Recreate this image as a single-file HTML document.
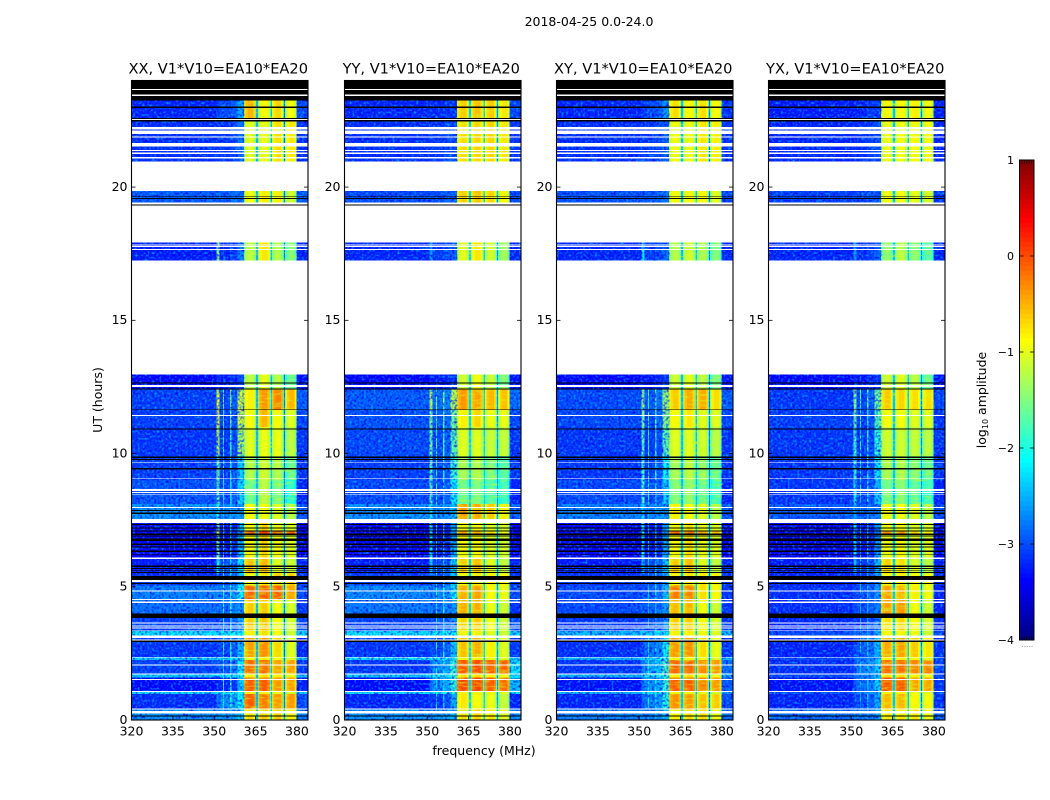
<!DOCTYPE html>
<html>
<head>
<meta charset="utf-8">
<title>2018-04-25 0.0-24.0</title>
<style>
html,body{margin:0;padding:0;background:#fff;width:1050px;height:800px;overflow:hidden}
svg{display:block}
text{font-family:"DejaVu Sans","Liberation Sans",sans-serif;fill:#000}
</style>
</head>
<body>
<svg id="chart" xmlns="http://www.w3.org/2000/svg" width="1050" height="800" viewBox="0 0 1050 800">
<defs>
<filter id="speckleDark" x="0" y="0" width="100%" height="100%" color-interpolation-filters="sRGB">
<feTurbulence type="fractalNoise" baseFrequency="0.42" numOctaves="1" seed="4"/>
<feColorMatrix type="matrix" values="0 0 0 0 0  0 0 0 0 0  0 0 0 0 0.95  2.6 0 0 0 -1.15"/>
</filter>
<filter id="speckleLight" x="0" y="0" width="100%" height="100%" color-interpolation-filters="sRGB">
<feTurbulence type="fractalNoise" baseFrequency="0.42" numOctaves="1" seed="11"/>
<feColorMatrix type="matrix" values="0 0 0 0 0  0 0 0 0 0.7  0 0 0 0 1  2.6 0 0 0 -1.3"/>
</filter>
<filter id="speckleBand" x="0" y="0" width="100%" height="100%" color-interpolation-filters="sRGB">
<feTurbulence type="fractalNoise" baseFrequency="0.12 0.5" numOctaves="1" seed="7"/>
<feColorMatrix type="matrix" values="0 0 0 0 0.8  0 0 0 0 1  0 0 0 0 0.1  2 0 0 0 -0.95"/>
</filter>
</defs>
<text x="589" y="26" font-size="12.5" text-anchor="middle">2018-04-25 0.0-24.0</text>
<text transform="translate(102,400) rotate(-90)" font-size="12.5" text-anchor="middle">UT (hours)</text>
<text x="484" y="755" font-size="12.5" text-anchor="middle">frequency (MHz)</text>
<text transform="translate(986,400) rotate(-90)" font-size="12.5" text-anchor="middle">log<tspan font-size="8" dy="2">10</tspan><tspan dy="-2"> amplitude</tspan></text>
<g id="panels"></g>
<g id="colorbar"></g>
</svg>
<script>
const panelTitles = ["XX, V1*V10=EA10*EA20", "YY, V1*V10=EA10*EA20", "XY, V1*V10=EA10*EA20", "YX, V1*V10=EA10*EA20"];
const xTicks = [320, 335, 350, 365, 380];
const yTicks = [0, 5, 10, 15, 20];
const colorbarTicks = [1, 0, -1, -2, -3, -4];
const freqEdges = [320, 350.8, 351.9, 353.2, 353.6, 355.8, 356.3, 358.5, 360.8, 361.3, 362.2, 364.2, 365, 365.3, 365.7, 366, 366.5, 367.4, 369.4, 370.2, 370.5, 370.8, 371, 371.5, 372.2, 374.2, 375, 375.3, 375.7, 375.9, 376.4, 377.1, 379.1, 379.9, 384];
const binColumn = [0, 2, 1, 3, 1, 3, 1, 4, 5, 5, 5, 5, -2, -1, -2, 6, 6, 6, 6, -2, -1, -2, 7, 7, 7, 7, -2, -1, -2, 8, 8, 8, 8, 9];
const binOffset = [0, 0, 0, 0, 0, 0, 0.1, 0, -0.3, -0.1, 0, -0.2, 0, 0, 0, -0.3, -0.1, 0, -0.2, 0, 0, 0, -0.3, -0.1, 0, -0.2, 0, 0, 0, -0.3, -0.1, 0, -0.3, 0];
const notchLevels = [-2.9, -2.7, -2.85, -2.8];
const notchEdgeLevels = [-1.95, -1.85, -1.95, -1.95];
const blockStart = [23.25, 22.57, 19.85, 17.92, 12.96, 12.4, 11.65, 11, 9.9, 9, 8.1, 7.4, 7.12, 6.1, 5.5, 5.05, 4.5, 3.82, 3.36, 3.15, 2.37, 2.26, 1.75, 1.6, 1.09, 0.98, 0.44];
const blockEnd = [22.57, 20.96, 19.35, 17.25, 12.4, 11.65, 11, 9.9, 9, 8.1, 7.55, 6.1, 6.95, 5.5, 5.05, 4.5, 3.82, 3.36, 3.15, 2.37, 2.26, 1.75, 1.6, 1.09, 0.98, 0.44, 0];
const levelsXX = [
[-3.2,-3,-3.1,-3,-2.5,-.5,-.85,-.65,-.9,-3],
[-3.15,-3.1,-3.1,-3.05,-2.8,-1,-.95,-.7,-.75,-3.1],
[-2.9,-2.9,-2.9,-2.9,-2.8,-.9,-.8,-.8,-1.1,-2.9],
[-3.25,-3.2,-1.5,-2.9,-2.7,-1.2,-.75,-1.25,-1.5,-3.2],
[-3.4,-3.3,-3.1,-3.1,-3,-1.2,-.95,-1.25,-1.6,-3.3],
[-3.05,-3,-.95,-1.4,-1.1,-.8,-.35,-.25,-.5,-2.9],
[-3.05,-3.05,-1,-1.6,-1.1,-.85,-.5,-.85,-1,-3],
[-3.1,-3.1,-1.2,-1.8,-1.3,-1,-.95,-.95,-1.2,-3.1],
[-3.05,-3.05,-1.6,-2,-2.3,-1.25,-1.1,-1.25,-1.6,-3.1],
[-2.95,-3,-1.7,-2,-2.3,-1.6,-1.2,-1.5,-1.9,-3.2],
[-2.6,-2.7,-2,-2.4,-2.6,-.85,-.9,-1,-1.2,-2.9],
[-3.4,-3.3,-1.5,-2.2,-2.4,-.85,-.65,-.9,-1,-3.4],
[-3.4,-3.3,-1,-2.2,-2.6,.1,.1,.1,-.1,-3.4],
[-3.25,-2.9,-2,-2.2,-2.2,-.55,-.5,-1,-1.1,-3.2],
[-3.1,-3,-3,-2.2,-2.4,-.9,-.75,-.6,-.6,-3.1],
[-2.7,-2.7,-2.7,-1.9,-2.1,-.1,-.05,-.1,-.4,-3],
[-2.8,-2.8,-2.8,-1.9,-2.6,-.6,-.6,-.9,-1.05,-3.1],
[-3.05,-3,-3,-2,-2.5,-.6,-.55,-.85,-1.05,-3],
[-2.2,-2.2,-2.2,-2.1,-2.1,-.8,-.7,-.9,-1.1,-2.3],
[-3.1,-3,-3,-1.9,-2.4,-.4,-.3,-.65,-1,-3.2],
[-2.3,-2.3,-2.2,-2.1,-2.1,-.9,-.8,-.9,-1,-2.4],
[-3.05,-2.9,-2.9,-1.9,-2.2,-.15,-.15,-.4,-.4,-3.1],
[-2.3,-2.2,-2.2,-2,-2,-.8,-.7,-.8,-.9,-2.4],
[-3.35,-3.2,-3.2,-1.9,-2.3,-.05,-.05,-.35,-.4,-3.2],
[-2.2,-2.2,-2.2,-2,-2,-.8,-.8,-.9,-1,-2.3],
[-3.15,-2.6,-2.8,-1.9,-2.1,-.05,-.2,-.35,-.35,-3],
[-2.6,-2.6,-2.6,-2.4,-2.3,-.7,-.6,-.6,-.8,-2.7]
];
const levelsYY = [
[-3.2,-3.2,-3.1,-3.1,-3.1,-.6,-.55,-.6,-.75,-3],
[-3.15,-3.1,-3.1,-3.1,-3,-.7,-.65,-.65,-.75,-3.1],
[-3,-3,-3,-3,-2.9,-.6,-.55,-.65,-.85,-3],
[-3.2,-3.1,-2.6,-3,-2.9,-1,-.75,-1.1,-1.35,-3.2],
[-3.4,-3.3,-3.2,-3.2,-3.1,-1.1,-.9,-1.15,-1.5,-3.3],
[-2.9,-2.8,-1.2,-1.4,-1.2,-.35,-.4,-.5,-.55,-2.8],
[-2.95,-2.9,-1.5,-1.6,-1.6,-.8,-.65,-.95,-.95,-3],
[-3,-3,-1.6,-1.8,-1.7,-1,-1,-1.15,-1.15,-3.1],
[-3.05,-3,-1.7,-2,-1.9,-1.3,-1.25,-1.5,-1.7,-3.1],
[-3,-3,-1.7,-2.1,-2.2,-1.6,-1.5,-1.7,-1.85,-3.2],
[-2.6,-2.7,-2,-2.4,-2.4,-.35,-.45,-.6,-.8,-2.9],
[-3.4,-3.3,-2,-2.3,-2.5,-.85,-.85,-1,-1.05,-3.4],
[-3.4,-3.3,-2.1,-2.3,-2.5,-.4,-.45,-.7,-.9,-3.4],
[-3.25,-3,-2.3,-2.2,-2.3,-.6,-.55,-1,-1.15,-3.2],
[-3.05,-3,-3,-2.3,-2.4,-.9,-.8,-.8,-.85,-3.1],
[-2.65,-2.7,-2.7,-2,-2.2,-.45,-.4,-.85,-.95,-3],
[-2.75,-2.8,-2.8,-2.1,-2.6,-.45,-.45,-.95,-1.1,-3.1],
[-3.05,-3,-3,-2.2,-2.6,-.65,-.6,-.9,-1.1,-3],
[-2.2,-2.2,-2.2,-2.1,-2.1,-.85,-.8,-1,-1.1,-2.3],
[-3.1,-3,-3,-2,-2.4,-.55,-.45,-.8,-1,-3.1],
[-2.2,-2.2,-2.2,-2.1,-2,-.8,-.8,-.9,-1,-2.3],
[-3.1,-2.6,-2.8,-2.1,-1.9,-.05,0,-.1,-.1,-2.2],
[-2.3,-2.1,-2.1,-2,-1.9,-.7,-.7,-.8,-.9,-2.2],
[-3.35,-2.6,-2.8,-2.3,-1.9,.05,.05,-.05,-.15,-2.4],
[-2.2,-2.1,-2.1,-2,-1.9,-.8,-.8,-.9,-1,-2.2],
[-3.2,-3.1,-3.1,-2.3,-2.5,-.75,-.85,-.95,-1.15,-3.2],
[-2.6,-2.6,-2.6,-2.5,-2.4,-.7,-.65,-.75,-.95,-2.7]
];
const levelsXY = [
[-3.2,-3,-3.1,-3,-2.6,-.7,-.85,-.7,-.85,-3.1],
[-3.15,-3.1,-3.1,-3.05,-2.9,-.9,-.95,-.75,-.8,-3.1],
[-2.95,-2.95,-2.95,-2.9,-2.8,-.85,-.85,-.85,-1,-3],
[-3.2,-3.1,-2.2,-3,-2.8,-1.25,-1.1,-1.3,-1.5,-3.2],
[-3.4,-3.3,-3.2,-3.2,-3.1,-1.1,-1,-1.2,-1.5,-3.3],
[-3,-2.9,-1.4,-1.6,-1.4,-.6,-.45,-.45,-.7,-2.9],
[-3,-3,-1.5,-1.7,-1.5,-.85,-.75,-1,-1,-3],
[-3.1,-3.1,-1.7,-1.9,-1.7,-1,-1,-1.1,-1.2,-3.1],
[-3.1,-3.05,-1.8,-2,-2.1,-1.3,-1.2,-1.4,-1.6,-3.1],
[-3,-3,-1.8,-2.1,-2.3,-1.5,-1.4,-1.6,-1.8,-3.2],
[-2.7,-2.7,-2.2,-2.4,-2.6,-.8,-.9,-1,-1.2,-2.9],
[-3.4,-3.3,-2,-2.3,-2.5,-.85,-.7,-.95,-1,-3.4],
[-3.4,-3.3,-2,-2.3,-2.6,-.05,-.1,-.3,-.5,-3.4],
[-3.25,-3,-2.3,-2.3,-2.3,-.6,-.55,-1,-1.15,-3.2],
[-3.1,-3,-3,-2.4,-2.5,-.85,-.75,-.75,-.8,-3.1],
[-3,-2.9,-2.9,-2.3,-2.4,-.2,-.25,-.7,-.85,-3.1],
[-3,-2.9,-2.9,-2.4,-2.6,-.5,-.5,-.9,-1.1,-3.1],
[-3.1,-3,-3,-2.4,-2.6,-.6,-.6,-.85,-1.05,-3.1],
[-2.4,-2.3,-2.3,-2.2,-2.2,-.8,-.8,-.9,-1,-2.4],
[-3.15,-2.8,-3,-2.2,-2.1,-.35,-.3,-.7,-.95,-3.1],
[-2.4,-2.2,-2.2,-2.1,-2,-.8,-.8,-.9,-1,-2.4],
[-3.1,-2.5,-2.7,-2.2,-1.8,-.1,-.1,-.3,-.35,-2.8],
[-2.4,-2.1,-2.1,-2,-1.9,-.8,-.7,-.8,-.9,-2.5],
[-3.3,-2.6,-2.8,-2.2,-1.9,-.05,-.05,-.25,-.35,-2.9],
[-2.4,-2.2,-2.1,-2,-1.9,-.8,-.8,-.9,-1,-2.5],
[-3.2,-2.7,-2.9,-2.2,-2,-.3,-.35,-.55,-.6,-3],
[-2.7,-2.7,-2.6,-2.5,-2.4,-.8,-.7,-.7,-.9,-2.8]
];
const levelsYX = [
[-3.25,-3.2,-3.2,-3.1,-3.1,-.85,-.85,-.8,-.9,-3.2],
[-3.2,-3.15,-3.15,-3.1,-3,-.95,-.9,-.85,-.9,-3.2],
[-3.05,-3,-3,-3,-2.95,-.9,-.9,-.95,-1.05,-3.1],
[-3.2,-3.15,-2.6,-3,-2.9,-1.45,-1.2,-1.45,-1.7,-3.2],
[-3.4,-3.3,-3.2,-3.2,-3.1,-1.1,-1,-1.2,-1.6,-3.3],
[-3.1,-3,-1.5,-1.7,-1.6,-.6,-.65,-.7,-.7,-3],
[-3.05,-3.05,-1.6,-1.8,-1.7,-.9,-.9,-1,-1,-3.1],
[-3.1,-3.1,-1.8,-2,-1.9,-1.1,-1.1,-1.15,-1.2,-3.1],
[-3.1,-3.1,-1.9,-2.1,-2.2,-1.3,-1.25,-1.45,-1.6,-3.1],
[-3.1,-3.05,-2,-2.2,-2.4,-1.55,-1.45,-1.65,-1.8,-3.2],
[-2.9,-2.9,-2.4,-2.6,-2.7,-.9,-.9,-1,-1.2,-3],
[-3.45,-3.3,-2.2,-2.4,-2.6,-.9,-.85,-1,-1,-3.4],
[-3.4,-3.3,-2.2,-2.4,-2.7,-.3,-.35,-.65,-.8,-3.4],
[-3.25,-3.1,-2.4,-2.4,-2.4,-.65,-.7,-1.05,-1.2,-3.2],
[-3.2,-3.1,-3.1,-2.5,-2.6,-.85,-.8,-.85,-.9,-3.2],
[-3.15,-3,-3,-2.4,-2.6,-.4,-.5,-.8,-.9,-3.2],
[-3.15,-3,-3,-2.5,-2.7,-.4,-.35,-.9,-1.1,-3.2],
[-3.2,-3.1,-3,-2.5,-2.7,-.7,-.65,-.85,-1.05,-3.2],
[-3,-2.9,-2.8,-2.6,-2.5,-.85,-.85,-.95,-1.1,-3],
[-3.2,-2.9,-3,-2.3,-2.4,-.45,-.4,-.6,-.75,-3.1],
[-3,-2.8,-2.7,-2.5,-2.4,-.8,-.8,-.85,-.95,-3],
[-3.15,-2.7,-2.9,-2.4,-2.3,-.15,-.15,-.25,-.25,-3],
[-3,-2.7,-2.7,-2.5,-2.4,-.7,-.7,-.8,-.9,-3],
[-3.3,-2.8,-2.9,-2.4,-2.3,0,-.05,-.4,-.4,-3.1],
[-3,-2.7,-2.7,-2.5,-2.4,-.8,-.8,-.9,-1,-3],
[-3.2,-3,-3,-2.3,-2.5,-.5,-.5,-.85,-.85,-3.1],
[-2.8,-2.8,-2.7,-2.6,-2.5,-.8,-.75,-.75,-.9,-2.9]
];
const blankSpanStart = [23.69,23.47,22.55,22.25,22.12,21.9,21.65,21.4,21.3,21.12,20.96,19.42,19.31,17.87,17.8,17.67,17.25,12.57,11.45,9.67,9.07,8.66,8.56,8.47,7.99,7.54,6.09,5.25,4.86,4.55,4.45,3.65,3.55,3.47,3.36,3.17,3.02,2.37,2.09,1.75,1.54,1.09,0.44,0.33];
const blankSpanEnd = [23.65,23.41,22.51,22.17,22,21.86,21.52,21.36,21.25,21.08,19.85,19.35,17.92,17.84,17.75,17.64,12.96,12.49,11.41,9.64,9.04,8.59,8.52,8.44,7.96,7.4,6.05,5.17,4.83,4.5,4.4,3.62,3.51,3.43,3.34,3.07,2.99,2.35,2.05,1.7,1.5,1.05,0.39,0.24];
const flaggedSpanStart = [24,23.65,23.41,23.02,22.59,22.51,19.66,19.59,19.35,12.66,12.44,11.65,10.94,9.88,9.8,9.45,7.89,7.78,7.36,7.22,7.11,6.99,6.92,6.81,6.63,6.52,6.37,6.22,5.79,5.7,5.61,5.55,5.4,5.15,4,2.99,0.16];
const flaggedSpanEnd = [23.69,23.47,23.25,22.97,22.55,22.47,19.64,19.56,19.31,12.63,12.4,11.63,10.9,9.84,9.76,9.41,7.85,7.74,7.32,7.18,7.07,6.94,6.88,6.71,6.56,6.48,6.3,6.19,5.75,5.66,5.59,5.52,5.26,5.1,3.82,2.92,0.13];
const panelLevels = [levelsXX, levelsYY, levelsXY, levelsYX];

const SVG_NS = "http://www.w3.org/2000/svg";
const panelLeft = [131.5, 344.5, 556.5, 768.5];
const panelWidth = 176.5;
const plotTop = 80.5;
const plotHeight = 639.5;
const freqMin = 320, freqMax = 384, hourMin = 0, hourMax = 24;
const barLeft = 1019.5, barWidth = 14.5, barTop = 160, barHeight = 480, barMin = -4, barMax = 1;

function xScale(panel, f) { return panelLeft[panel] + (f - freqMin) / (freqMax - freqMin) * panelWidth; }
function yScale(h) { return plotTop + (hourMax - h) / (hourMax - hourMin) * plotHeight; }
function barScale(v) { return barTop + (barMax - v) / (barMax - barMin) * barHeight; }

function jet(v) {
  const t = Math.max(0, Math.min(1, (v - barMin) / (barMax - barMin)));
  const ramp = (a) => Math.round(255 * Math.max(0, Math.min(1, a)));
  const r = ramp(Math.min(4 * t - 1.5, -4 * t + 4.5));
  const g = ramp(Math.min(4 * t - 0.5, -4 * t + 3.5));
  const b = ramp(Math.min(4 * t + 0.5, -4 * t + 2.5));
  return "rgb(" + r + "," + g + "," + b + ")";
}
function make(tag, parent) {
  const el = document.createElementNS(SVG_NS, tag);
  parent.appendChild(el);
  return el;
}
function setAll(el, attrs) { for (const k in attrs) el.setAttribute(k, attrs[k]); }

const panelsRoot = document.getElementById("panels");

panelTitles.forEach(function (title, p) {
  const g = make("g", panelsRoot);
  
  
  const levels = panelLevels[p];
  const left = xScale(p, freqMin), right = xScale(p, freqMax);

  for (let i = 0; i < blockStart.length; i++) {
    const y0 = yScale(blockStart[i]), y1 = yScale(blockEnd[i]);
    for (let b = 0; b < binColumn.length; b++) {
      const col = binColumn[b];
      let value;
      if (col === -1) value = notchLevels[p];
      else if (col === -2) value = notchEdgeLevels[p];
      else value = levels[i][col] + binOffset[b];
      const x0 = xScale(p, freqEdges[b]), x1 = xScale(p, freqEdges[b + 1]);
      const cell = make("rect", g);
      
      
      setAll(cell, { x: x0, y: y0, width: x1 - x0 + 0.4, height: y1 - y0 + 0.4, fill: jet(value), "shape-rendering": "crispEdges" });
    }
  }

  [[freqMin, 360.8, "speckleDark"], [freqMin, 360.8, "speckleLight"], [379.9, freqMax, "speckleDark"], [379.9, freqMax, "speckleLight"], [360.8, 379.9, "speckleBand"]].forEach(function (layer) {
    const tex = make("rect", g);
    
    
    setAll(tex, { x: xScale(p, layer[0]), y: plotTop, width: xScale(p, layer[1]) - xScale(p, layer[0]), height: plotHeight, filter: "url(#" + layer[2] + ")" });
  });

  blankSpanStart.forEach(function (start, i) {
    const bar = make("rect", g);
    
    
    setAll(bar, { x: left, y: yScale(start), width: right - left, height: yScale(blankSpanEnd[i]) - yScale(start), fill: "#fff", "shape-rendering": "crispEdges" });
  });
  flaggedSpanStart.forEach(function (start, i) {
    const bar = make("rect", g);
    
    
    setAll(bar, { x: left, y: yScale(start), width: right - left, height: yScale(flaggedSpanEnd[i]) - yScale(start), fill: "#000", "shape-rendering": "crispEdges" });
  });

  const frame = make("rect", g);
  
  
  setAll(frame, { x: left, y: plotTop, width: right - left, height: plotHeight, fill: "none", stroke: "#000", "stroke-width": 1.1 });

  xTicks.forEach(function (t) {
    const x = xScale(p, t);
    [[plotTop + plotHeight, plotTop + plotHeight - 4], [plotTop, plotTop + 4]].forEach(function (pts) {
      const tick = make("line", g);
      
      
      setAll(tick, { x1: x, x2: x, y1: pts[0], y2: pts[1], stroke: "#000", "stroke-width": 0.8 });
    });
    const label = make("text", g);
    
    
    setAll(label, { x: x, y: 735.5, "font-size": 12.5, "text-anchor": "middle" });
    label.textContent = t;
  });

  yTicks.forEach(function (t) {
    const y = yScale(t);
    [[left, left + 4], [right, right - 4]].forEach(function (pts) {
      const tick = make("line", g);
      
      
      setAll(tick, { x1: pts[0], x2: pts[1], y1: y, y2: y, stroke: "#000", "stroke-width": 0.8 });
    });
    const label = make("text", g);
    
    
    setAll(label, { x: left - 4, y: y + 3.8, "font-size": 12.5, "text-anchor": "end" });
    label.textContent = t;
  });

  const heading = make("text", g);
  
  
  setAll(heading, { x: (left + right) / 2 - 1.5, y: 73.5, "font-size": 14.6, "text-anchor": "middle" });
  heading.textContent = title;
});

const barRoot = document.getElementById("colorbar");
for (let v = barMin; v < barMax - 1e-6; v += 0.05) {
  const swatch = make("rect", barRoot);
  
  
  setAll(swatch, { x: barLeft, y: barScale(v + 0.05), width: barWidth, height: barScale(v) - barScale(v + 0.05) + 0.5, fill: jet(v + 0.025), "shape-rendering": "crispEdges" });
}
const barFrame = make("rect", barRoot);


setAll(barFrame, { x: barLeft, y: barTop, width: barWidth, height: barHeight, fill: "none", stroke: "#000", "stroke-width": 1 });

for (let k = 1; k <= 5; k++) {
  const hx = barLeft + k * barWidth / 6;
  [[barTop, barTop + 4], [barTop + barHeight, barTop + barHeight - 4]].forEach(function (pts) {
    const hatch = make("line", barRoot);
    
    
    setAll(hatch, { x1: hx, x2: hx, y1: pts[0], y2: pts[1], stroke: "#000", "stroke-width": 0.6 });
  });
  const dot = make("rect", barRoot);
  
  
  setAll(dot, { x: hx, y: 646, width: 1, height: 1, fill: "#999" });
}

colorbarTicks.forEach(function (t) {
  const y = barScale(t);
  [[barLeft, barLeft + 4], [barLeft + barWidth, barLeft + barWidth - 4]].forEach(function (pts) {
    const tick = make("line", barRoot);
    
    
    setAll(tick, { x1: pts[0], x2: pts[1], y1: y, y2: y, stroke: "#000", "stroke-width": 0.8 });
  });
  const label = make("text", barRoot);
  
  
  setAll(label, { x: 1014, y: y + 4, "font-size": 11, "text-anchor": "end" });
  label.textContent = String(t).replace("-", "\u2212");
});
</script>
</body>
</html>
